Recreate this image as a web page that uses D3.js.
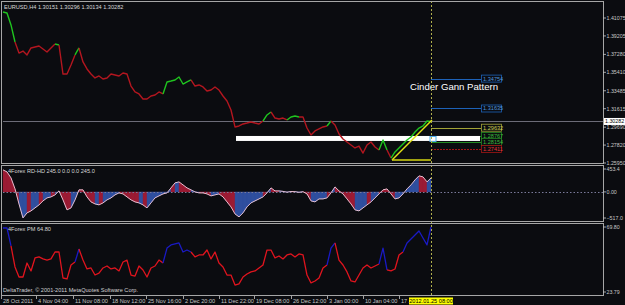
<!DOCTYPE html>
<html>
<head>
<meta charset="utf-8">
<script src="https://cdn.jsdelivr.net/npm/d3@7"></script>
<style>
  html, body { margin: 0; padding: 0; background: #0b0c10; }
  svg { display: block; }
  text { font-family: "Liberation Sans", Arial, sans-serif; }
</style>
</head>
<body>
<div id="chart"></div>
<script>
// EURUSD H4 closes, one sample every 4 bars-ish (index = bar slot)
const priceClose = [
  1.4170,1.4160,1.4035,1.3857,1.3742,1.3763,1.3722,1.3795,1.3805,1.3815,
  1.3784,1.3753,1.3795,1.3836,1.3826,1.3523,1.3523,1.3617,1.3722,1.3795,
  1.3649,1.3576,1.3523,1.3482,1.3503,1.3471,1.3482,1.3523,1.3513,1.3503,
  1.3534,1.3523,1.3398,1.3336,1.3315,1.3263,1.3263,1.3294,1.3304,1.3336,
  1.3315,1.3440,1.3450,1.3461,1.3492,1.3419,1.3440,1.3461,1.3398,1.3409,
  1.3388,1.3346,1.3356,1.3388,1.3356,1.3294,1.3242,1.3148,1.2971,1.2981,
  1.3002,1.3012,1.3023,1.3012,1.3002,1.3033,1.3096,1.3127,1.3064,1.3054,
  1.3064,1.3044,1.3075,1.3085,1.3075,1.3075,1.2960,1.2887,1.2929,1.2950,
  1.2971,1.2981,1.3033,1.2991,1.2898,1.2845,1.2814,1.2783,1.2752,1.2772,
  1.2699,1.2783,1.2814,1.2762,1.2731,1.2835,1.2731,1.2647,1.2710,1.2752,
  1.2793,1.2835,1.2866,1.2918,1.2960,1.2981,1.3033,1.3028
];
// g = up trend (green), r = down trend (red)
const priceTrend = (
  'ggggrrrrrr' + 'rrrrgrrrrg' + 'rrrrrrrrrr' + 'rrrrrrrrrr' + 'rgggggggrr' +
  'rrrrrrrrrr' + 'rrrrrrggrr' + 'rrgggrrrrr' + 'rrgrrrrrrr' + 'rrrrrggrgg' + 'gggggggg'
).split('');

const priceTicks = [1.25950, 1.27820, 1.29690, 1.31615, 1.33485, 1.35410, 1.37280, 1.39205, 1.41075];
const lastPrice = 1.30282;
const headerText = 'EURUSD,H4  1.30151 1.30296 1.30134 1.30282';

// Cinder Gann objects
const zoneFrom = 58.25, zoneTo = 119.25, zoneHigh = 1.2877, zoneLow = 1.2825;
const trendStart = [97.25, 1.2626], trendEnd = [107.25, 1.3044];
const levelValues = [1.34754, 1.31635, 1.29632, 1.28767, 1.28154, 1.27411];
const levelKinds = ['blue', 'blue', 'olive', 'green', 'green', 'red'];
const levelFrom = 107, levelTo = 119.5;

// 4Forex RD-HD histogram
const rdValues = [
  436,396,277,59,-238,-515,-416,-376,-317,-257,
  -178,-119,-99,-59,20,-158,-356,-317,-158,40,
  40,-99,-198,-238,-257,-218,-158,-119,-59,-20,
  -40,-99,-158,-198,-218,-257,-317,-218,-119,-79,
  -40,-20,79,178,198,139,79,40,0,-20,
  -20,-40,-79,-59,-40,-99,-198,-297,-436,-495,
  -416,-297,-218,-178,-139,-99,-20,79,20,20,
  10,-5,8,5,-8,4,-40,-178,-198,-139,
  -139,-119,-20,99,20,-40,-139,-238,-356,-376,
  -317,-257,-198,-119,-40,40,59,-40,-139,-119,
  -40,59,139,238,317,297,198,277
];
const rdColors = (
  'brrrrbbrbb' + 'rbbrbrrrbb' + 'rrrrbrbbbb' + 'rrrrrbrbbb' + 'bbbrbrrrbb' +
  'rrrbbrrrrb' + 'bbbbbbrbrr' + 'bbbrbbrrbb' + 'bbrbrrrrrb' + 'bbrbbrrrrb' + 'bbbbbrrb'
).split('');
const rdTicks = [453.4, 0, -517.0];
const rdLabel = '4Forex RD-HD 245.0 0.0 0.0 245.0';

// 4Forex PM line
const pmValues = [
  69.1,69.1,56.4,41.5,34.4,34.4,44.3,38.7,47.9,48.6,
  47.2,46.4,47.2,52.1,52.1,33.7,33.0,42.9,45.0,54.2,
  46.4,40.1,40.8,35.8,37.2,40.8,42.2,40.1,40.8,38.7,
  45.0,46.4,35.8,35.1,42.2,39.4,34.4,40.8,42.2,46.4,
  44.3,54.9,57.1,57.8,58.5,52.1,53.5,52.1,48.6,50.0,
  50.0,53.5,47.2,52.1,44.3,41.5,35.8,35.8,28.7,29.5,
  34.4,36.5,38.0,38.7,40.8,42.9,53.5,53.5,47.9,49.3,
  47.2,50.0,50.7,48.6,50.7,50.0,35.8,30.2,31.6,33.7,
  40.8,42.9,54.9,58.5,46.4,42.9,38.0,31.6,30.9,35.8,
  40.8,42.9,40.8,42.2,43.6,54.9,39.4,38.7,40.1,50.0,
  52.1,58.5,61.3,64.1,67.0,62.0,57.1,69.8
];
const pmColors = (
  'bbbrrrrrrr' + 'rrrrrrrrrb' + 'rrrrrrrrrr' + 'rrrrrrrrrr' + 'rbbbbbbbrr' +
  'rrrrrrrrrr' + 'rrrrrrrrrr' + 'rrrrrrrrrr' + 'rrbbrrrrrr' + 'rrrrrbbrrr' + 'rbbbbbbb'
).split('');
const pmTicks = [69.80, 23.79];
const pmLabel = '4Forex PM 64.80';

// time axis
const timeTicks = [-0.5, 8.25, 17.5, 26.75, 35.75, 45, 54, 62.75, 72, 81, 90, 99];
const timeLabels = ['28 Oct 2011', '4 Nov 04:00', '11 Nov 08:00', '18 Nov 12:00', '25 Nov 16:00',
  '2 Dec 20:00', '11 Dec 22:00', '19 Dec 08:00', '26 Dec 12:00', '3 Jan 00:00', '10 Jan 04:00', '17 Jan 08:00'];
const cursorIndex = 107;
const cursorLabel = '2012.01.25 08:00';
const copyright = 'DeltaTrader, \u00a9 2001-2011 MetaQuotes Software Corp.';

const width = 625, height = 305;
const fs = 5.6;
const axisCol = '#c8c8c8';

const svg = d3.select('#chart').append('svg')
  .attr('width', width)
  .attr('height', height);

svg.append('rect').attr('width', width).attr('height', height).attr('fill', '#0b0c10');

// Scales
const x = d3.scaleLinear().domain([0, 150]).range([3, 603]);
const yPrice = d3.scaleLinear().domain([priceTicks[0], priceTicks[priceTicks.length - 1]]).range([163, 18]);
const yRd = d3.scaleLinear().domain([-517, 453.4]).range([218, 169]);
const yPm = d3.scaleLinear().domain([23.79, 69.80]).range([292, 227]);

const panels = [
  { id: 'p0', top: 1.5, bottom: 163.5 },
  { id: 'p1', top: 165.5, bottom: 221.5 },
  { id: 'p2', top: 223.5, bottom: 295.5 }
];
const defs = svg.append('defs');
panels.forEach(p => {
  defs.append('clipPath').attr('id', 'clip-' + p.id)
    .append('rect').attr('x', 2).attr('y', p.top).attr('width', 601).attr('height', p.bottom - p.top);
});
// time labels are hidden under the cursor tag, like the terminal does
defs.append('clipPath').attr('id', 'clip-time')
  .append('rect').attr('x', 0).attr('y', 295).attr('width', x(cursorIndex) - 22).attr('height', 10);

const line = d3.line();

// split a series into colour runs, each run sharing its first point with the previous one
function runs(values, colors, yScale) {
  const out = [];
  let cur = null;
  for (let i = 1; i < values.length; i++) {
    const c = colors[i];
    if (!cur || cur.c !== c) {
      cur = { c, pts: [[x(i - 1), yScale(values[i - 1])]] };
      out.push(cur);
    }
    cur.pts.push([x(i), yScale(values[i])]);
  }
  return out;
}

// ---------- main price panel ----------
const g0 = svg.append('g').attr('clip-path', 'url(#clip-p0)');

// bid line
g0.append('line')
  .attr('x1', 3).attr('x2', 603)
  .attr('y1', Math.round(yPrice(lastPrice)) + 0.5).attr('y2', Math.round(yPrice(lastPrice)) + 0.5)
  .attr('stroke', '#6c6c78').attr('stroke-width', 1);

// levels
const levelStyle = {
  blue: { line: '#1d62b8', text: '#4f95dd' },
  olive: { line: '#a3a336', text: '#cfcf55' },
  green: { line: '#238a23', text: '#3dbb3d' },
  red: { line: '#a31616', text: '#e03535' }
};
levelValues.forEach((v, i) => {
  const st = levelStyle[levelKinds[i]];
  const yy = Math.round(yPrice(v)) + 0.5;
  g0.append('line')
    .attr('x1', x(levelFrom)).attr('x2', x(levelTo))
    .attr('y1', yy).attr('y2', yy)
    .attr('stroke', st.line).attr('stroke-width', 1)
    .attr('stroke-dasharray', levelKinds[i] === 'red' ? '2,1' : null);
});

// white zone
g0.append('rect')
  .attr('x', x(zoneFrom)).attr('width', x(zoneTo) - x(zoneFrom))
  .attr('y', yPrice(zoneHigh)).attr('height', yPrice(zoneLow) - yPrice(zoneHigh))
  .attr('fill', '#ffffff');

// price line
runs(priceClose, priceTrend, yPrice).forEach(r => {
  g0.append('path')
    .attr('d', line(r.pts))
    .attr('fill', 'none')
    .attr('stroke', r.c === 'g' ? '#1fc41f' : '#b3161f')
    .attr('stroke-width', 1.4)
    .attr('stroke-linejoin', 'round');
});

// yellow Gann lines
g0.append('line')
  .attr('x1', x(trendStart[0])).attr('y1', yPrice(trendStart[1]))
  .attr('x2', x(trendEnd[0])).attr('y2', yPrice(trendEnd[1]))
  .attr('stroke', '#e4e414').attr('stroke-width', 1.5);
g0.append('line')
  .attr('x1', x(trendStart[0])).attr('y1', yPrice(trendStart[1]))
  .attr('x2', x(cursorIndex)).attr('y2', yPrice(trendStart[1]))
  .attr('stroke', '#d6d612').attr('stroke-width', 1.5);

// small marker box on the zone
g0.append('rect')
  .attr('x', x(cursorIndex - 0.25)).attr('y', yPrice(zoneHigh) + 0.5)
  .attr('width', 6).attr('height', 5)
  .attr('fill', 'none').attr('stroke', '#4fb0ee').attr('stroke-width', 1);

// level labels
levelValues.forEach((v, i) => {
  const st = levelStyle[levelKinds[i]];
  const yy = yPrice(v);
  g0.append('rect')
    .attr('x', x(levelTo) + 0.5).attr('y', yy - 3.5)
    .attr('width', 20).attr('height', 7)
    .attr('fill', '#0b0c10').attr('stroke', st.line).attr('stroke-width', 0.8);
  g0.append('text')
    .attr('x', x(levelTo) + 2).attr('y', yy + 2)
    .attr('font-size', fs).attr('fill', st.text)
    .text(d3.format('.5f')(v));
});

g0.append('text')
  .attr('x', 410).attr('y', 90)
  .attr('font-size', 9.6).attr('fill', '#ffffff')
  .text('Cinder Gann Pattern');

g0.append('text')
  .attr('x', 4).attr('y', 9)
  .attr('font-size', fs).attr('fill', '#d8d8d8')
  .text(headerText);

// ---------- RD-HD panel ----------
const g1 = svg.append('g').attr('clip-path', 'url(#clip-p1)');
const area = d3.area().x(d => d[0]).y0(yRd(0)).y1(d => d[1]);
for (let i = 1; i < rdValues.length; i++) {
  g1.append('path')
    .attr('d', area([[x(i - 1), yRd(rdValues[i - 1])], [x(i), yRd(rdValues[i])]]))
    .attr('fill', rdColors[i] === 'b' ? '#2f4f9f' : '#9b1b33')
    .attr('stroke', rdColors[i] === 'b' ? '#2f4f9f' : '#9b1b33')
    .attr('stroke-width', 0.4);
}
g1.append('line')
  .attr('x1', 3).attr('x2', 603)
  .attr('y1', Math.round(yRd(0)) + 0.5).attr('y2', Math.round(yRd(0)) + 0.5)
  .attr('stroke', '#7a7a9a').attr('stroke-width', 1).attr('stroke-dasharray', '1.5,2');
g1.append('path')
  .attr('d', line(rdValues.map((v, i) => [x(i), yRd(v)])))
  .attr('fill', 'none').attr('stroke', '#e4bfd0').attr('stroke-width', 1);
g1.append('text')
  .attr('x', 8).attr('y', 173)
  .attr('font-size', fs).attr('fill', '#d8d8d8')
  .text(rdLabel);

// ---------- PM panel ----------
const g2 = svg.append('g').attr('clip-path', 'url(#clip-p2)');
runs(pmValues, pmColors, yPm).forEach(r => {
  g2.append('path')
    .attr('d', line(r.pts))
    .attr('fill', 'none')
    .attr('stroke', r.c === 'b' ? '#1a1ac4' : '#e0141e')
    .attr('stroke-width', 1.3)
    .attr('stroke-linejoin', 'round');
});
g2.append('text')
  .attr('x', 8).attr('y', 231)
  .attr('font-size', fs).attr('fill', '#d8d8d8')
  .text(pmLabel);
g2.append('text')
  .attr('x', 3).attr('y', 292)
  .attr('font-size', fs).attr('fill', '#d0d0d0')
  .text(copyright);

// cursor line through all panels
svg.append('line')
  .attr('x1', x(cursorIndex) + 0.5).attr('x2', x(cursorIndex) + 0.5)
  .attr('y1', 1).attr('y2', 296)
  .attr('stroke', '#b0b04c').attr('stroke-width', 1).attr('stroke-dasharray', '2,2');

// frames
panels.forEach(p => {
  svg.append('rect')
    .attr('x', 1.5).attr('y', p.top)
    .attr('width', 602).attr('height', p.bottom - p.top)
    .attr('fill', 'none').attr('stroke', '#a6a6a6').attr('stroke-width', 1);
});

// ---------- right axes ----------
function rightAxis(scale, ticks, fmt) {
  const ax = svg.append('g');
  ticks.forEach(t => {
    const yy = scale(t);
    ax.append('line').attr('x1', 603).attr('x2', 606).attr('y1', yy).attr('y2', yy)
      .attr('stroke', axisCol).attr('stroke-width', 0.8);
    ax.append('text')
      .attr('x', 606.5).attr('y', yy).attr('dy', '0.35em')
      .attr('font-size', 5.3).attr('fill', axisCol)
      .text(fmt(t));
  });
}
rightAxis(yPrice, priceTicks, d3.format('.5f'));
rightAxis(yRd, rdTicks, v => v === 0 ? '0.00' : d3.format('.1f')(v));
rightAxis(yPm, pmTicks, d3.format('.2f'));

// last price tag
const ly = yPrice(lastPrice);
svg.append('rect').attr('x', 604).attr('y', ly - 3.5).attr('width', 21).attr('height', 7).attr('fill', '#ffffff');
svg.append('text').attr('x', 605).attr('y', ly).attr('dy', '0.35em')
  .attr('font-size', 5.3).attr('fill', '#000000').text(d3.format('.5f')(lastPrice));

// ---------- time axis ----------
const tAx = svg.append('g');
const tLab = tAx.append('g').attr('clip-path', 'url(#clip-time)');
timeTicks.forEach((t, i) => {
  tAx.append('line').attr('x1', x(t) + 0.5).attr('x2', x(t) + 0.5).attr('y1', 296).attr('y2', 299)
    .attr('stroke', axisCol).attr('stroke-width', 0.8);
  tLab.append('text')
    .attr('x', x(t) + 2).attr('y', 303)
    .attr('font-size', fs).attr('fill', axisCol)
    .text(timeLabels[i]);
});
tAx.append('rect')
  .attr('x', x(cursorIndex) - 22).attr('y', 297.5)
  .attr('width', 44).attr('height', 7)
  .attr('fill', '#ffff00');
tAx.append('text')
  .attr('x', x(cursorIndex)).attr('y', 303)
  .attr('text-anchor', 'middle')
  .attr('font-size', fs).attr('fill', '#000000')
  .text(cursorLabel);
</script>
</body>
</html>
